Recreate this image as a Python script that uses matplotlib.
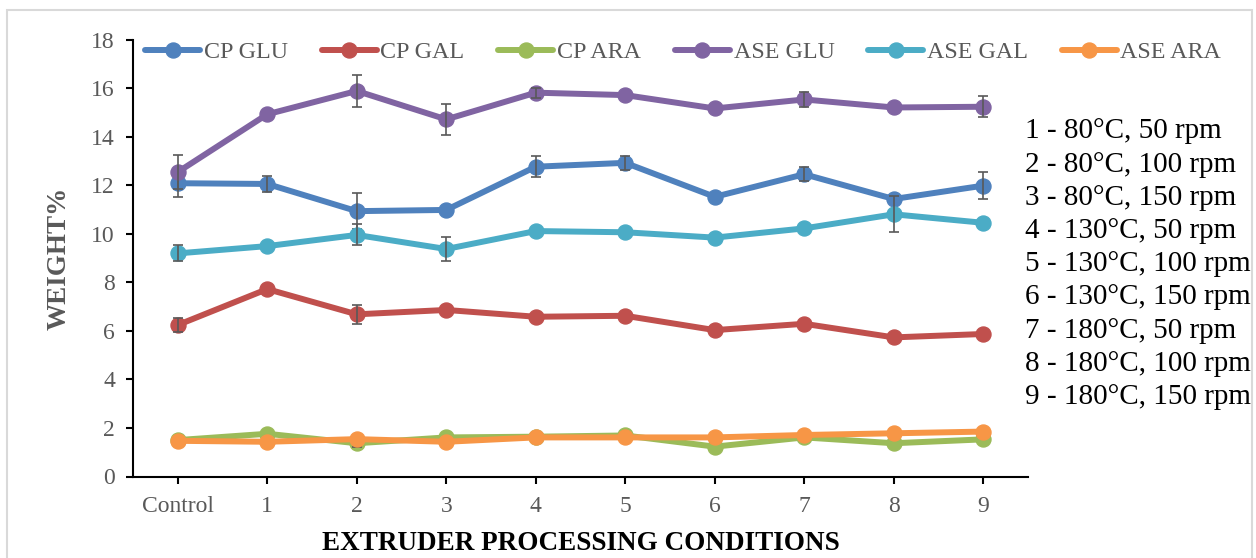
import matplotlib.pyplot as plt
from matplotlib.patches import Rectangle
import numpy as np

plt.rcParams['font.family'] = ['Liberation Serif', 'DejaVu Serif']

categories = ["Control", "1", "2", "3", "4", "5", "6", "7", "8", "9"]

cp_glu = [12.08, 12.05, 10.93, 10.98, 12.76, 12.92, 11.52, 12.45, 11.43, 11.98]
cp_gal = [6.24, 7.72, 6.68, 6.86, 6.58, 6.62, 6.03, 6.29, 5.73, 5.87]
cp_ara = [1.50, 1.76, 1.37, 1.61, 1.64, 1.69, 1.23, 1.61, 1.37, 1.53]
ase_glu = [12.54, 14.92, 15.88, 14.71, 15.81, 15.71, 15.16, 15.53, 15.20, 15.23]
ase_gal = [9.19, 9.49, 9.95, 9.37, 10.11, 10.06, 9.84, 10.22, 10.80, 10.45]
ase_ara = [1.47, 1.43, 1.54, 1.43, 1.61, 1.61, 1.61, 1.71, 1.78, 1.85]

# standard deviations (0 = no bar drawn)
cp_glu_err = [0.57, 0.33, 0.74, 0, 0.43, 0.29, 0, 0.28, 0, 0.55]
cp_gal_err = [0.27, 0, 0.39, 0, 0, 0, 0, 0, 0, 0]
cp_ara_err = [0, 0, 0.15, 0, 0, 0, 0, 0, 0, 0]
ase_glu_err = [0.70, 0, 0.67, 0.65, 0.20, 0, 0, 0.32, 0, 0.44]
ase_gal_err = [0.33, 0, 0.43, 0.50, 0, 0, 0, 0, 0.74, 0]
ase_ara_err = [0, 0, 0, 0, 0, 0, 0, 0, 0, 0]

conditions = [
    "1 - 80°C, 50 rpm",
    "2 - 80°C, 100 rpm",
    "3 - 80°C, 150 rpm",
    "4 - 130°C, 50 rpm",
    "5 - 130°C, 100 rpm",
    "6 - 130°C, 150 rpm",
    "7 - 180°C, 50 rpm",
    "8 - 180°C, 100 rpm",
    "9 - 180°C, 150 rpm",
]

series = [
    ("CP GLU", cp_glu, cp_glu_err, "#4F81BD"),
    ("CP GAL", cp_gal, cp_gal_err, "#C0504D"),
    ("CP ARA", cp_ara, cp_ara_err, "#9BBB59"),
    ("ASE GLU", ase_glu, ase_glu_err, "#8064A2"),
    ("ASE GAL", ase_gal, ase_gal_err, "#4BACC6"),
    ("ASE ARA", ase_ara, ase_ara_err, "#F79646"),
]

W, H = 1256, 558
fig = plt.figure(figsize=(W / 100, H / 100), dpi=100)
ax = fig.add_axes([133 / W, 1 - 476.5 / H, (1028 - 133) / W, (476.5 - 39.5) / H])

x = np.arange(len(categories))
for name, vals, err, color in series:
    vals = np.array(vals)
    err = np.array(err)
    ax.plot(x, vals, color=color, lw=4.3, marker="o", ms=10.8, label=name,
            solid_capstyle="round")
    m = err > 0
    if m.any():
        ax.errorbar(x[m], vals[m], yerr=err[m], fmt="none", ecolor="#595959",
                    elinewidth=1.2, capsize=3.6, capthick=1.2)

ax.set_xlim(-0.5, len(categories) - 0.5)
ax.set_ylim(0, 18)
ax.set_yticks(range(0, 19, 2))
ax.set_xticks(x)
ax.set_xticklabels(categories)
for s in ["top", "right"]:
    ax.spines[s].set_visible(False)
for s in ["left", "bottom"]:
    ax.spines[s].set_linewidth(1.5)
ax.tick_params(axis="both", labelsize=17, labelcolor="#595959", width=1.5, length=5)
ax.tick_params(axis="y", pad=8)
ax.tick_params(axis="x", pad=9)

ax.set_xlabel("EXTRUDER PROCESSING CONDITIONS", fontsize=19.5, fontweight="bold",
              labelpad=10)
ax.set_ylabel("WEIGHT%", fontsize=19.5, fontweight="bold", color="#595959",
              labelpad=14)

fig.legend(loc="center left", bbox_to_anchor=(145 / W, 1 - 52 / H), ncol=6,
           frameon=False, fontsize=17.3, handlelength=2.3, handletextpad=0.15,
           columnspacing=1.4, borderpad=0, borderaxespad=0,
           labelcolor="#595959")

for i, line in enumerate(conditions):
    fig.text(1025 / W, 1 - (131.5 + i * 33.2) / H, line, fontsize=21,
             ha="left", va="center", color="black")

fig.patches.append(Rectangle((7 / W, -0.01), (1252 - 7) / W, 1 - 10 / H + 0.01,
                             transform=fig.transFigure, fill=False,
                             edgecolor="#D9D9D9", lw=1.5))

fig.savefig("out.png", dpi=100)
